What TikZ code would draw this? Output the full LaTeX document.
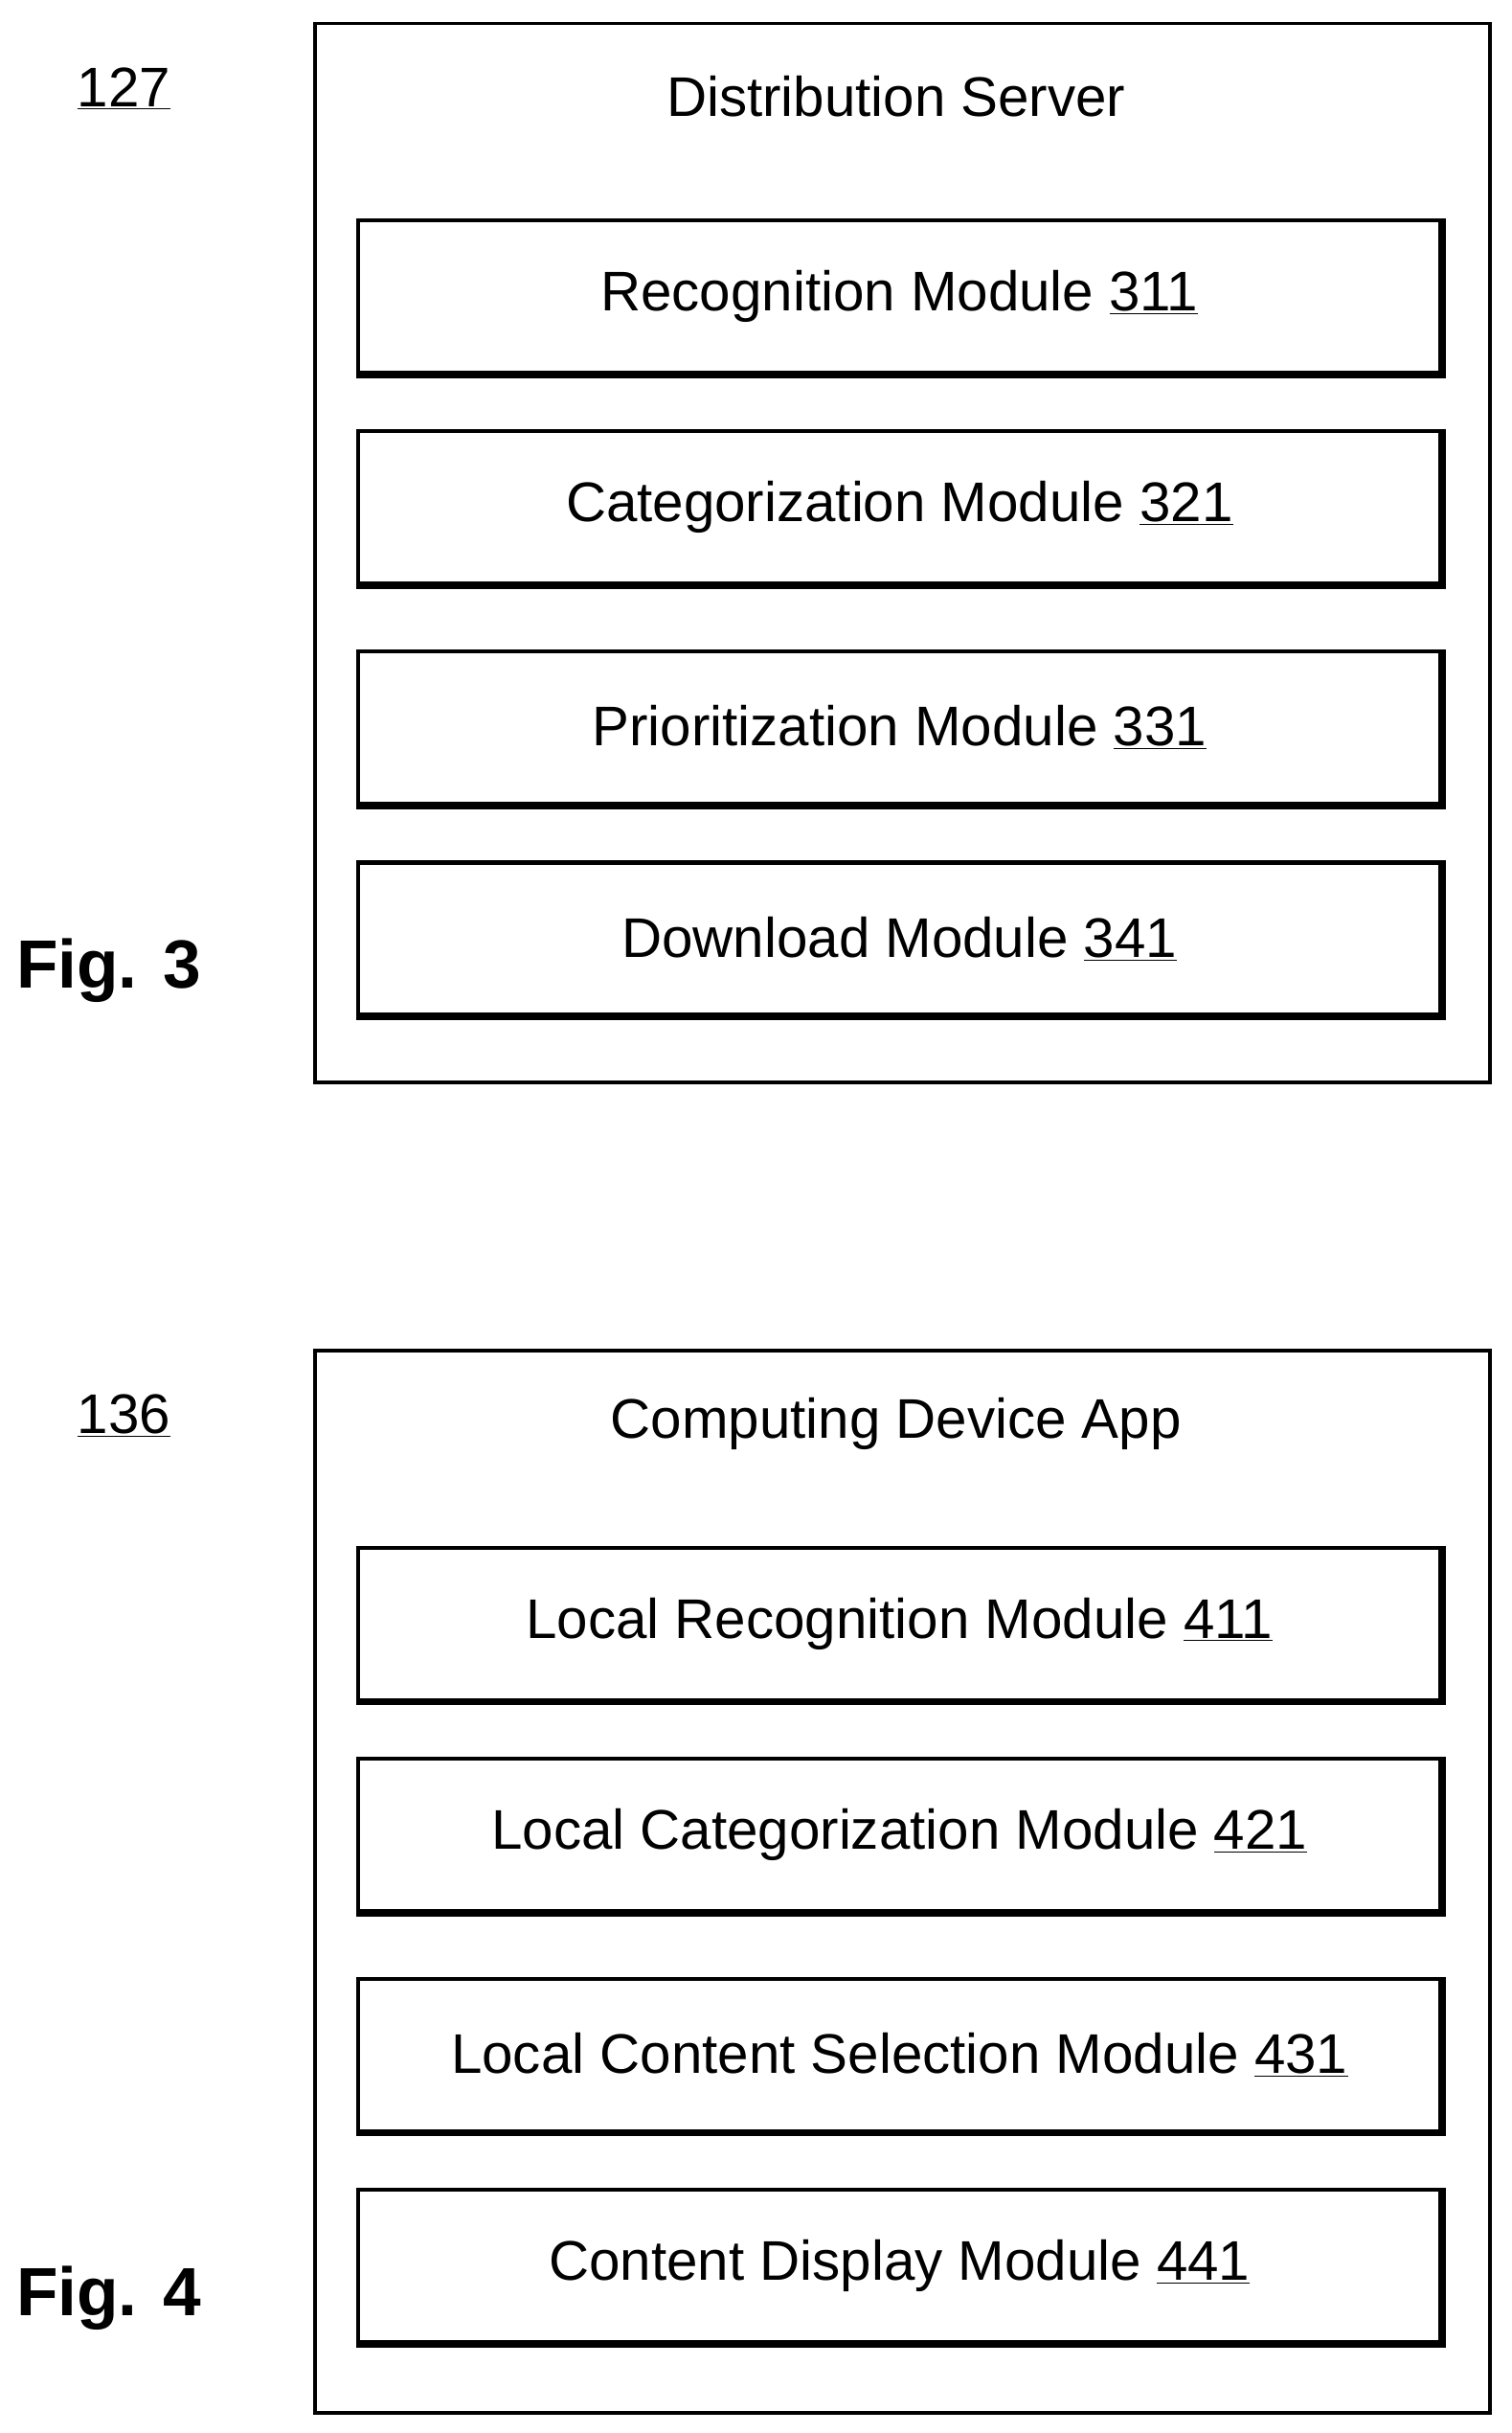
\documentclass[tikz,border=0pt]{standalone}
\usepackage{fontspec}
\setmainfont{Liberation Sans}
\begin{document}
\begin{tikzpicture}[x=1pt,y=-1pt,
  txt/.style={font=\fontsize{36}{40}\selectfont},
  fig/.style={font=\fontsize{44}{50}\selectfont\bfseries},
  outer/.style={draw,line width=2.2pt},
  modbox/.style={draw,line width=2.5pt,minimum width=698pt,minimum height=98pt,anchor=north west,inner sep=0pt,font=\fontsize{36}{40}\selectfont}]
\useasboundingbox (0,0) rectangle (975,1569);
\newcommand{\modbx}[3]{%
  \node[modbox] (#1) at (230,#2) {#3};
  \draw[line width=4.5pt] (#1.north east) -- (#1.south east) -- (#1.south west);}
% Fig 3
\node[outer,minimum width=758pt,minimum height=683pt,anchor=north west,inner sep=0pt] (s3) at (202,14) {};
\node[txt] (t3) at (578,62) {Distribution Server};
\node[txt] (n127) at (80,57) {\underline{127}};
\node[fig] (f3) at (70,626) {Fig. 3};
\modbx{a}{141}{Recognition Module \underline{311}}
\modbx{b}{277}{Categorization Module \underline{321}}
\modbx{c}{419}{Prioritization Module \underline{331}}
\modbx{d}{555}{Download Module \underline{341}}
% Fig 4
\node[outer,minimum width=758pt,minimum height=685pt,anchor=north west,inner sep=0pt] (s4) at (202,870) {};
\node[txt] (t4) at (578,918) {Computing Device App};
\node[txt] (n136) at (80,913) {\underline{136}};
\node[fig] (f4) at (70,1482) {Fig. 4};
\modbx{e}{997}{Local Recognition Module \underline{411}}
\modbx{f}{1133}{Local Categorization Module \underline{421}}
\modbx{g}{1275}{Local Content Selection Module \underline{431}}
\modbx{h}{1411}{Content Display Module \underline{441}}
\end{tikzpicture}
\end{document}
